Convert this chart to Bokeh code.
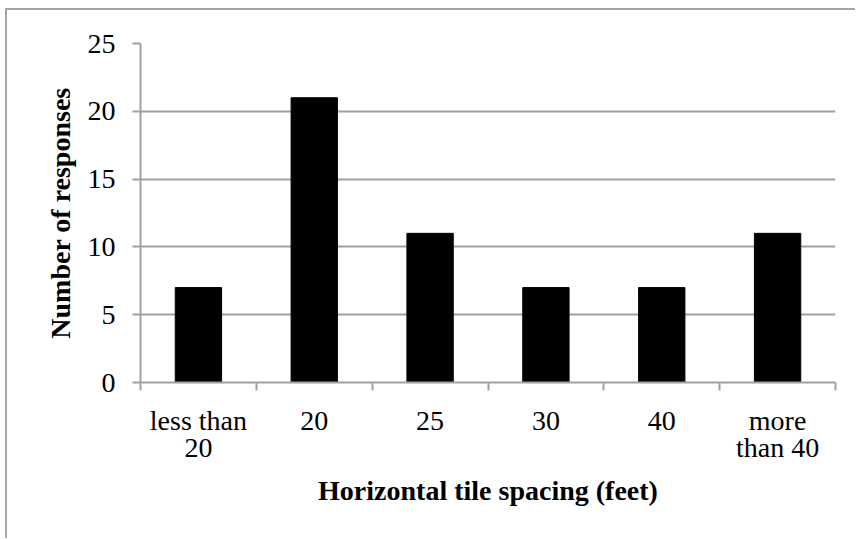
from bokeh.plotting import figure
from bokeh.models import Range1d, FixedTicker, ColumnDataSource
from bokeh.embed import file_html
from bokeh.resources import INLINE

categories = ["less than 20", "20", "25", "30", "40", "more than 40"]
tick_labels = ["less than\n20", "20", "25", "30", "40", "more\nthan 40"]
responses = [7, 21, 11, 7, 7, 11]
y_ticks = [0, 5, 10, 15, 20, 25]

centers = [i + 0.5 for i in range(len(categories))]
bounds = list(range(len(categories) + 1))

src = ColumnDataSource(dict(x=centers, top=responses, cat=categories))

GRAY = "#a0a0a0"
FONT = "Liberation Serif"

p = figure(width=850, height=530, output_backend="svg", toolbar_location=None,
           x_range=Range1d(0, len(categories)), y_range=Range1d(0, 25),
           min_border_left=133, min_border_right=22, min_border_top=33,
           min_border_bottom=158)
p.styles = {"border-top": "2px solid #a6a6a6", "border-left": "2px solid #a6a6a6",
            "margin-left": "5px", "margin-top": "8px"}
p.outline_line_color = None
p.background_fill_color = "white"
p.border_fill_color = "white"

p.vbar(x="x", top="top", width=0.4, bottom=0, source=src,
       fill_color="black", line_color="black")

p.xgrid.visible = False
p.ygrid.grid_line_color = GRAY
p.ygrid.grid_line_width = 2
p.ygrid.ticker = FixedTicker(ticks=y_ticks)

xa = p.xaxis[0]
xa.ticker = FixedTicker(ticks=centers, minor_ticks=bounds)
xa.major_label_overrides = {c: t for c, t in zip(centers, tick_labels)}
xa.major_tick_line_color = None
xa.major_tick_out = 0
xa.major_tick_in = 0
xa.minor_tick_out = 8
xa.minor_tick_in = 0
xa.minor_tick_line_color = GRAY
xa.minor_tick_line_width = 2
xa.axis_line_color = GRAY
xa.axis_line_width = 2
xa.major_label_standoff = 14
xa.major_label_text_font = FONT
xa.major_label_text_font_size = "28px"
xa.major_label_text_line_height = 0.9
xa.major_label_text_color = "black"
xa.axis_label = "Horizontal tile spacing (feet)"
xa.axis_label_text_font = FONT
xa.axis_label_text_font_size = "28px"
xa.axis_label_text_font_style = "bold"
xa.axis_label_text_color = "black"
xa.axis_label_standoff = 9

ya = p.yaxis[0]
ya.ticker = FixedTicker(ticks=y_ticks)
ya.minor_tick_line_color = None
ya.major_tick_out = 8
ya.major_tick_in = 0
ya.major_tick_line_color = GRAY
ya.major_tick_line_width = 2
ya.axis_line_color = GRAY
ya.axis_line_width = 2
ya.major_label_standoff = 17
ya.major_label_text_font = FONT
ya.major_label_text_font_size = "28px"
ya.major_label_text_color = "black"
ya.axis_label = "Number of responses"
ya.axis_label_text_font = FONT
ya.axis_label_text_font_size = "28px"
ya.axis_label_text_font_style = "bold"
ya.axis_label_text_color = "black"
ya.axis_label_standoff = 9

open("out.html", "w").write(file_html(p, INLINE))
